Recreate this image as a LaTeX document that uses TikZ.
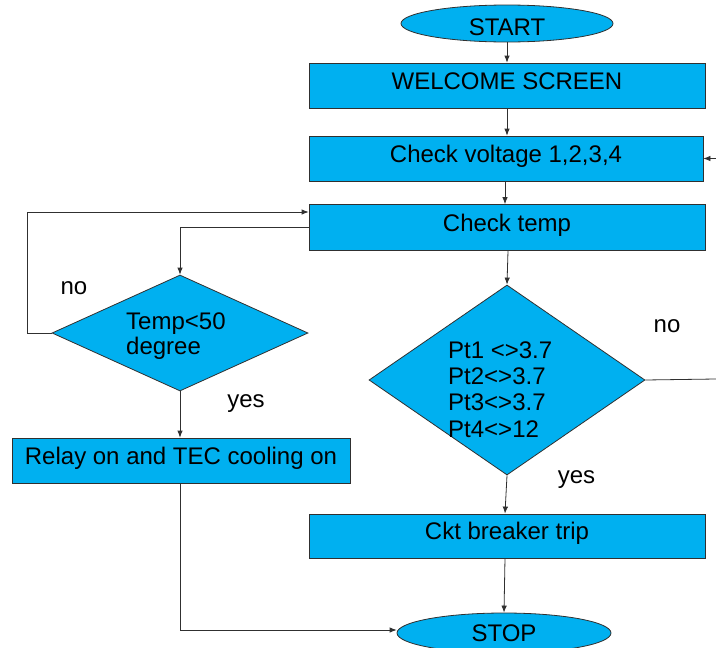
\documentclass[tikz,border=0pt]{standalone}
\usepackage{fontspec}
\setmainfont{Liberation Sans}
\usetikzlibrary{shapes.geometric,arrows.meta}
\definecolor{fillblue}{HTML}{00B0F0}
\definecolor{linegray}{HTML}{303030}
\begin{document}
\begin{tikzpicture}[x=1pt,y=-1pt,
  every node/.style={font=\fontsize{24}{26.3}\selectfont},
  proc/.style={rectangle,draw=linegray,line width=0.8pt,fill=fillblue,inner sep=0pt,
    text height=12pt,text depth=4.8pt},
  term/.style={ellipse,draw=linegray,line width=0.8pt,fill=fillblue,inner sep=0pt,
    minimum width=212pt,minimum height=37pt},
  decide/.style={diamond,draw=linegray,line width=0.8pt,fill=fillblue,inner sep=0pt},
  lbl/.style={inner sep=0pt},
  conn/.style={draw=linegray,line width=0.8pt},
  arr/.style={conn,-{Latex[length=7pt,width=5.5pt]}}]
\useasboundingbox (0,0) rectangle (716,648);
% nodes
\node[term,text height=24.2pt,text depth=0pt] (start) at (507,23.5) {START};
\node[proc,minimum width=396pt,minimum height=45pt] (welcome) at (507,85.5) {WELCOME SCREEN};
\node[proc,minimum width=394pt,minimum height=45pt] (cvolt) at (506,158.5) {Check voltage 1,2,3,4};
\node[proc,minimum width=396pt,minimum height=46pt] (ctemp) at (507,227.5) {Check temp};
\node[decide,minimum width=256pt,minimum height=116pt] (d1) at (180,333) {};
\node[lbl,anchor=west,align=left,font=\fontsize{24}{25}\selectfont] (d1t) at (126,336) {Temp<50\\degree};
\node[proc,minimum width=338pt,minimum height=45pt] (relay) at (181,460.5) {Relay on and TEC cooling on};
\node[decide,minimum width=276pt,minimum height=190pt] (d2) at (507,380) {};
\node[lbl,anchor=west,align=left] (d2t) at (448,389.5) {Pt1 <>3.7\\Pt2<>3.7\\Pt3<>3.7\\Pt4<>12};
\node[proc,minimum width=396pt,minimum height=44pt] (ckt) at (507,536) {Ckt breaker trip};
\node[term,minimum width=214pt,minimum height=40pt] (stop) at (504,633) {STOP};
% labels
\node[lbl] (no1) at (74,288.5) {no};
\node[lbl] (yes1) at (246,403.5) {yes};
\node[lbl] (no2) at (667,326) {no};
\node[lbl] (yes2) at (576.5,480) {yes};
% coordinates
\coordinate (inV) at (716,158.5);
\coordinate (outD2) at (716,379);
\coordinate (loopL) at (27,212);
\coordinate (leftT) at (180,227.5);
\coordinate (botL) at (180,630);
% connectors
\draw[arr] (start.south) -- (welcome.north);
\draw[arr] (welcome.south) -- (cvolt.north -| welcome.south);
\draw[arr] ([xshift=-1pt]cvolt.south) -- ([xshift=-1pt]cvolt.south |- ctemp.north);
\draw[arr] (inV) -- (cvolt.east);
\draw[arr] (ctemp.west) -- (leftT) -- (d1.north);
\draw[arr] (d1.west) -| (loopL) -- (ctemp.west |- loopL);
\draw[arr] (d1.south) -- (relay.north -| d1.south);
\draw[arr] (relay.south -| d1.south) -- (botL) -- (stop.west |- botL);
\draw[arr] ([xshift=1pt]ctemp.south) -- (d2.north);
\draw[conn] (d2.east) -- (outD2);
\draw[arr] (d2.south) -- ([xshift=-2pt]ckt.north);
\draw[arr] ([xshift=-2pt]ckt.south) -- (stop.north);
\end{tikzpicture}
\end{document}
